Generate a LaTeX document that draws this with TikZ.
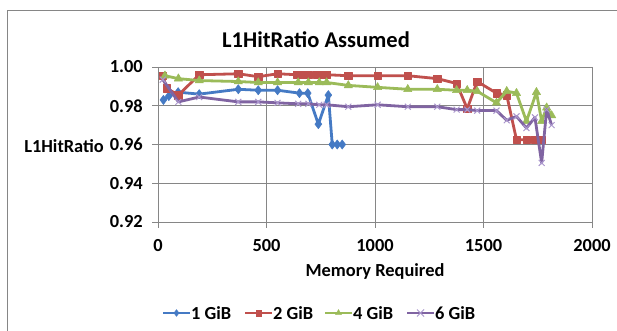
\documentclass[tikz,border=0pt]{standalone}
\usepackage{fontspec}
\setmainfont{Carlito}
\usetikzlibrary{plotmarks}

\definecolor{gridgray}{RGB}{134,134,134}
\definecolor{sblue}{RGB}{69,122,196}
\definecolor{sred}{RGB}{192,80,77}
\definecolor{sgreen}{RGB}{155,187,89}
\definecolor{spurple}{RGB}{128,100,162}
\definecolor{xpurple}{RGB}{170,150,205}

\tikzset{
  gridline/.style={draw=gridgray, line width=0.9pt},
  ticklab/.style={font=\fontsize{18.4}{20}\selectfont\bfseries, inner sep=0pt},
  series/.style={line width=2.8pt, line join=round},
  legline/.style={line width=1.8pt},
}

\begin{document}
\begin{tikzpicture}[x=1pt,y=-1pt]
  \useasboundingbox (0,0) rectangle (617,331);
  \fill[white] (0,0) rectangle (617,331);

  % chart area frame (left and top edges)
  \draw[gridgray, line width=0.9pt] (7,331) -- (7,10) -- (617,10);

  % title
  \node[font=\fontsize{22.5}{25}\selectfont\bfseries, inner sep=0pt] (title) at (316,40) {L1HitRatio Assumed};

  % horizontal gridlines and y ticks
  \foreach \v/\lab [count=\i] in {0/0.92,20/0.94,40/0.96,60/0.98,80/1.00}{
    \pgfmathsetmacro{\yy}{222-1.9375*\v}
    \draw[gridline] (152,\yy) -- (592,\yy);
    \node[ticklab, anchor=east] (ylab\i) at (143,\yy) {\lab};
  }
  % vertical gridlines and x ticks
  \foreach \m [count=\i] in {0,500,1000,1500,2000}{
    \pgfmathsetmacro{\xx}{158+0.217*\m}
    \draw[gridline] (\xx,67) -- (\xx,228);
    \node[ticklab] (xlab\i) at (\xx,246) {\m};
  }

  % axis titles
  \node[ticklab, anchor=east] (ytitle) at (104,146) {L1HitRatio};
  \node[ticklab] (xtitle) at (375,271) {Memory Required};

  % data series (y given in thousandths above 0.920)
  \begin{scope}[shift={(158,222)}, x=0.217pt, y=1.9375pt]
    \draw[series, sblue] plot[mark=diamond*, mark size=4.6pt, mark options={fill=sblue, draw=sblue, line width=0.5pt}] coordinates {
      (25,63) (50,65) (93,67) (190,66) (370,68.5) (462,68) (551,68) (652,66.5)
      (690,66.5) (739,50.5) (785,65.5) (803,40) (826,40) (849,40)};
    \draw[series, sred] plot[mark=square*, mark size=3.7pt, mark options={fill=sred, draw=sred, line width=0.5pt}] coordinates {
      (22,75.5) (40,69) (94,65.5) (190,76) (370,76.5) (462,75) (551,76.5) (642,76)
      (664,76) (693,76) (733,76) (756,76) (779,76) (876,75.5) (1012,75.5) (1151,75.5)
      (1287,74) (1376,71.5) (1425,58.5) (1471,72.5) (1560,66.5) (1607,65.5)
      (1652,42.5) (1698,42.5) (1737,42.5) (1768,42.5)};
    \draw[series, sgreen] plot[mark=triangle*, mark size=4.8pt, mark options={fill=sgreen, draw=sgreen, line width=0.5pt}] coordinates {
      (32,75.5) (94,74) (190,73) (370,72.5) (462,72) (551,72) (646,72) (693,72)
      (743,72) (777,72) (877,70.5) (1012,69.5) (1151,68.5) (1287,68.5) (1376,68)
      (1425,68) (1471,67.5) (1560,61.5) (1607,67.5) (1652,66.5) (1698,52)
      (1744,67) (1768,52) (1791,59) (1814,55)};
    \draw[series, spurple] plot[mark=x, mark size=4.2pt, mark options={draw=xpurple, line width=1pt}] coordinates {
      (22,73.5) (94,62) (190,64.5) (370,62) (462,62) (551,61.5) (646,61) (693,61)
      (743,60.5) (777,60.5) (877,59.5) (1012,60.5) (1151,59.5) (1287,59.5) (1376,58)
      (1425,58) (1471,57.5) (1560,57.5) (1607,52.5) (1652,54.5) (1698,48.5)
      (1737,54) (1768,30.5) (1791,58) (1814,50)};
  \end{scope}

  % legend: short line with one marker in the middle, then the label
  \draw[legline, sblue] (163,313) -- (190,313);
  \draw[sblue] plot[mark=diamond*, mark size=3.4pt, mark options={fill=sblue}] coordinates {(176.5,313)};
  \node[ticklab, anchor=west] (leg1) at (191,313) {1 GiB};
  \draw[legline, sred] (245,313) -- (272,313);
  \draw[sred] plot[mark=square*, mark size=2.7pt, mark options={fill=sred}] coordinates {(258.5,313)};
  \node[ticklab, anchor=west] (leg2) at (273,313) {2 GiB};
  \draw[legline, sgreen] (325,313) -- (352,313);
  \draw[sgreen] plot[mark=triangle*, mark size=3.4pt, mark options={fill=sgreen}] coordinates {(338.5,313)};
  \node[ticklab, anchor=west] (leg4) at (353,313) {4 GiB};
  \draw[legline, spurple] (407,313) -- (434,313);
  \draw[xpurple, line width=0.9pt] (417,309.5) -- (424,316.5) (417,316.5) -- (424,309.5);
  \node[ticklab, anchor=west] (leg6) at (435,313) {6 GiB};
\end{tikzpicture}
\end{document}
